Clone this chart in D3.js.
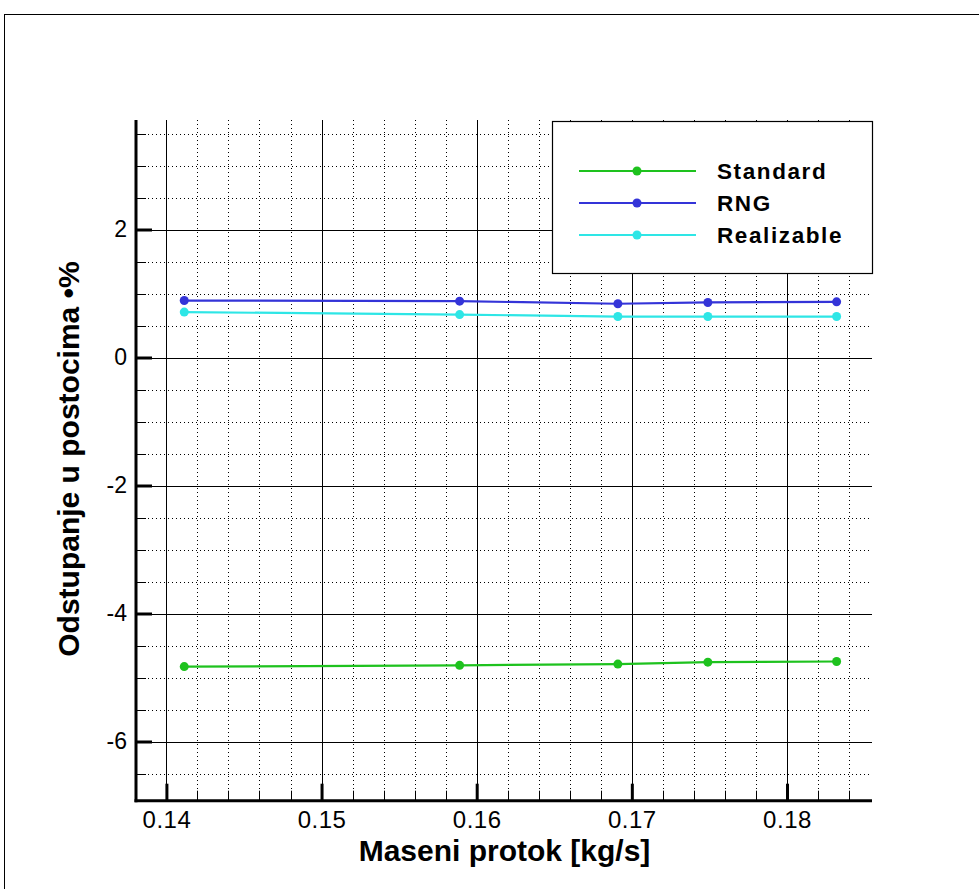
<!DOCTYPE html>
<html>
<head>
<meta charset="utf-8">
<script src="https://cdn.jsdelivr.net/npm/d3@7"></script>
<style>
  html, body { margin: 0; padding: 0; background: #fff; }
  svg { display: block; }
  text { font-family: Arial, "Liberation Sans", Helvetica, sans-serif; }
</style>
</head>
<body>
<svg id="chart" width="979" height="889"></svg>
<script>
// ---- data ----
const massFlow = [0.14115, 0.1589, 0.1691, 0.1749, 0.1832];
const standardValues = [-4.83, -4.81, -4.79, -4.76, -4.75];
const rngValues = [0.89, 0.88, 0.84, 0.86, 0.87];
const realizableValues = [0.71, 0.67, 0.64, 0.64, 0.64];
const seriesNames = ["Standard", "RNG", "Realizable"];
const xTickValues = [0.14, 0.15, 0.16, 0.17, 0.18];
const xTickLabels = ["0.14", "0.15", "0.16", "0.17", "0.18"];
const yTickValues = [-6, -4, -2, 0, 2];
const yTickLabels = ["-6", "-4", "-2", "0", "2"];
const xTitle = "Maseni protok [kg/s]";
const yTitle = "Odstupanje u postocima •%";

const seriesColors = ["#1ec21e", "#3434d8", "#2ee6e6"];
const series = [standardValues, rngValues, realizableValues].map((vals, i) => ({
  name: seriesNames[i], color: seriesColors[i],
  points: vals.map((v, j) => ({ x: massFlow[j], y: v }))
}));

const svg = d3.select("#chart");

// outer frame
svg.append("rect").attr("x", 4.5).attr("y", 14.5).attr("width", 985).attr("height", 900)
  .attr("fill", "none").attr("stroke", "#000").attr("stroke-width", 1);

const L = 136, R = 872, T = 120, B = 800.7;
const x = d3.scaleLinear().domain([0.13804, 0.18548]).range([L, R]);
const y = d3.scaleLinear().domain([-6.925, 3.711]).range([B, T]);

const g = svg.append("g");

// minor grid (dotted)
const xMinor = d3.range(0.138, 0.1855, 0.002).filter(v => Math.abs(Math.round(v * 100) - v * 100) > 1e-6);
const yMinor = d3.range(-6.5, 3.7, 0.5).filter(v => Math.abs(v % 2) > 1e-6);
g.selectAll(".xminor").data(xMinor).enter().append("line")
  .attr("x1", d => Math.round(x(d)) + 0.5).attr("x2", d => Math.round(x(d)) + 0.5)
  .attr("y1", T).attr("y2", B)
  .attr("stroke", "#000").attr("stroke-width", 1).attr("stroke-dasharray", "1,3");
g.selectAll(".yminor").data(yMinor).enter().append("line")
  .attr("y1", d => Math.round(y(d)) + 0.5).attr("y2", d => Math.round(y(d)) + 0.5)
  .attr("x1", L).attr("x2", R)
  .attr("stroke", "#000").attr("stroke-width", 1).attr("stroke-dasharray", "1,3");

// major grid (solid)
g.selectAll(".xmajor").data(xTickValues).enter().append("line")
  .attr("x1", d => Math.round(x(d)) + 0.5).attr("x2", d => Math.round(x(d)) + 0.5)
  .attr("y1", T).attr("y2", B).attr("stroke", "#000").attr("stroke-width", 1);
g.selectAll(".ymajor").data(yTickValues).enter().append("line")
  .attr("y1", d => Math.round(y(d)) + 0.5).attr("y2", d => Math.round(y(d)) + 0.5)
  .attr("x1", L).attr("x2", R).attr("stroke", "#000").attr("stroke-width", 1);

// minor ticks
g.selectAll(".xmt").data(xMinor).enter().append("line")
  .attr("x1", d => Math.round(x(d)) + 0.5).attr("x2", d => Math.round(x(d)) + 0.5)
  .attr("y1", B - 10).attr("y2", B).attr("stroke", "#000").attr("stroke-width", 1);
g.selectAll(".ymt").data(yMinor).enter().append("line")
  .attr("y1", d => Math.round(y(d)) + 0.5).attr("y2", d => Math.round(y(d)) + 0.5)
  .attr("x1", L).attr("x2", L + 10).attr("stroke", "#000").attr("stroke-width", 1);

// axes with major ticks (inward) and labels
const xAxis = d3.axisBottom(x).tickValues(xTickValues).tickSizeInner(-17).tickSizeOuter(0)
  .tickPadding(10).tickFormat((d, i) => xTickLabels[i]);
const xa = svg.append("g").attr("transform", `translate(0,${B})`).call(xAxis);
xa.attr("font-size", 24).attr("font-family", "Arial, 'Liberation Sans', sans-serif");
xa.select(".domain").attr("stroke-width", 3).attr("d", `M${L - 1.5},0H${R}`);
xa.selectAll(".tick line").attr("stroke-width", 3);
xa.selectAll(".tick text").style("font-size", "24px").attr("letter-spacing", 0.5).attr("fill", "#000");

const yAxis = d3.axisLeft(y).tickValues(yTickValues).tickSizeInner(-16).tickSizeOuter(0)
  .tickPadding(9).tickFormat((d, i) => yTickLabels[i]);
const ya = svg.append("g").attr("transform", `translate(${L},0)`).call(yAxis);
ya.attr("font-size", 23).attr("font-family", "Arial, 'Liberation Sans', sans-serif");
ya.select(".domain").attr("stroke-width", 3).attr("d", `M0,${T}V${B + 1.5}`);
ya.selectAll(".tick line").attr("stroke-width", 3);
ya.selectAll(".tick text").style("font-size", "23px").attr("fill", "#000");

// series
const line = d3.line().x(d => x(d.x)).y(d => y(d.y));
series.forEach(s => {
  svg.append("path").datum(s.points).attr("d", line)
    .attr("fill", "none").attr("stroke", s.color).attr("stroke-width", 2.2);
  svg.selectAll(null).data(s.points).enter().append("circle")
    .attr("cx", d => x(d.x)).attr("cy", d => y(d.y)).attr("r", 4.5).attr("fill", s.color);
});

// legend
const lg = svg.append("g");
lg.append("rect").attr("x", 552.5).attr("y", 121.5).attr("width", 320).attr("height", 152)
  .attr("fill", "#fff").attr("stroke", "#000").attr("stroke-width", 1.2);
series.forEach((s, i) => {
  const cy = 171 + i * 32;
  lg.append("line").attr("x1", 579).attr("x2", 696).attr("y1", cy).attr("y2", cy)
    .attr("stroke", s.color).attr("stroke-width", 2.2);
  lg.append("circle").attr("cx", 637).attr("cy", cy).attr("r", 4.5).attr("fill", s.color);
  lg.append("text").attr("x", 717).attr("y", cy + 8).text(s.name)
    .attr("font-size", 22.5).attr("font-weight", "bold").attr("letter-spacing", 1.6).attr("fill", "#000");
});

// titles
svg.append("text").attr("x", 504.5).attr("y", 861).attr("text-anchor", "middle")
  .attr("font-size", 30).attr("font-weight", "bold").text(xTitle);
svg.append("text").attr("transform", "translate(79,459) rotate(-90)").attr("text-anchor", "middle")
  .attr("font-size", 30).attr("font-weight", "bold").text(yTitle);
</script>
</body>
</html>
